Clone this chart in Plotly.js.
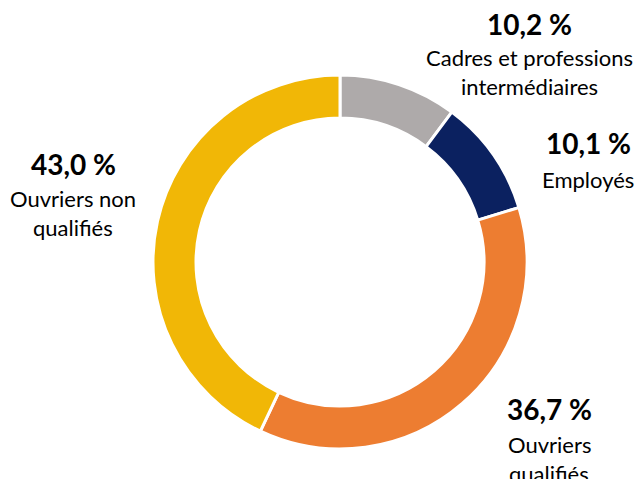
<!DOCTYPE html>
<html>
<head>
<meta charset="utf-8">
<script src="https://cdn.plot.ly/plotly-3.0.1.min.js"></script>
<style>html,body{margin:0;padding:0;background:#fff;}#chart{width:638px;height:479px;}</style>
</head>
<body>
<div id="chart"></div>
<script>
const categories = ["Cadres et professions<br>intermédiaires", "Employés", "Ouvriers<br>qualifiés", "Ouvriers non<br>qualifiés"];
const values = [10.2, 10.1, 36.7, 43.0];
const valueLabels = ["10,2 %", "10,1 %", "36,7 %", "43,0 %"];
const colors = ["#AEAAAA", "#0B2160", "#ED7D31", "#F1B706"];

// label anchor positions (paper px) for each category: [centerX, percentY, firstLineY]
const labelPos = [[529, 24, 57], [588, 143, 179], [549, 409, 444], [73, 164, 198]];

const W = 638, H = 479;
const font = "Lato, 'Open Sans', sans-serif";
const annotations = [];
categories.forEach((c, i) => {
  const [cx, py, ly] = labelPos[i];
  annotations.push({
    text: "<b>" + valueLabels[i] + "</b>", x: cx / W, y: 1 - py / H,
    xref: "paper", yref: "paper", showarrow: false, xanchor: "center", yanchor: "middle",
    font: {family: font, size: 28, color: "#000"}
  });
  c.split("<br>").forEach((line, j) => {
    annotations.push({
      text: line, x: cx / W, y: 1 - (ly + j * 29) / H,
      xref: "paper", yref: "paper", showarrow: false, xanchor: "center", yanchor: "middle",
      font: {family: font, size: 22, color: "#000"}
    });
  });
});

const trace = {
  type: "pie",
  values: values,
  labels: categories,
  hole: 0.77,
  sort: false,
  direction: "clockwise",
  rotation: 0,
  textinfo: "none",
  hoverinfo: "label+value",
  marker: {colors: colors, line: {color: "#fff", width: 3}},
  domain: {x: [153 / W, 527 / W], y: [1 - 449 / H, 1 - 75 / H]},
  showlegend: false
};

Plotly.newPlot("chart", [trace], {
  width: W, height: H,
  margin: {l: 0, r: 0, t: 0, b: 0},
  paper_bgcolor: "#fff",
  showlegend: false,
  annotations: annotations
}, {displayModeBar: false, staticPlot: true});
</script>
</body>
</html>
